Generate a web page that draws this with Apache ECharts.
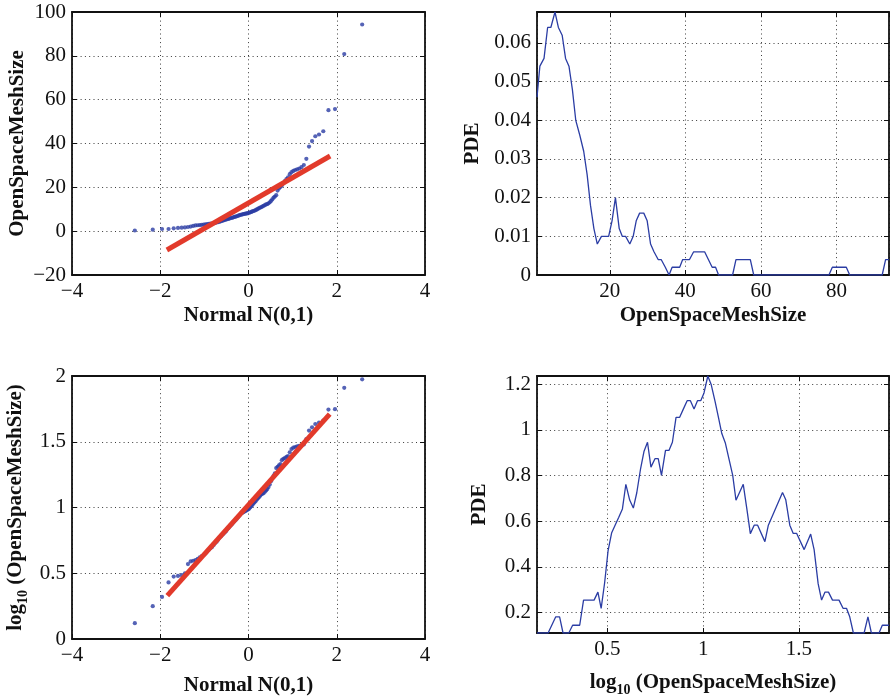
<!DOCTYPE html>
<html>
<head>
<meta charset="utf-8">
<script src="https://cdn.jsdelivr.net/npm/echarts@6/dist/echarts.min.js"></script>
<style>
  html, body { margin: 0; padding: 0; background: #ffffff; }
  #chart { width: 890px; height: 698px; }
</style>
</head>
<body>
<div id="chart"></div>
<script>
// Theoretical N(0,1) quantiles for a sample of 100 observations
const normalQuantiles = [
  -2.576, -2.170, -1.960, -1.812, -1.695, -1.598, -1.514, -1.440, -1.372, -1.311,
  -1.254, -1.200, -1.150, -1.103, -1.058, -1.015, -0.974, -0.935, -0.896, -0.860,
  -0.824, -0.789, -0.755, -0.722, -0.690, -0.659, -0.628, -0.598, -0.568, -0.539,
  -0.510, -0.482, -0.454, -0.426, -0.399, -0.372, -0.345, -0.319, -0.292, -0.266,
  -0.240, -0.215, -0.189, -0.164, -0.138, -0.113, -0.088, -0.063, -0.038, -0.013,
   0.013,  0.038,  0.063,  0.088,  0.113,  0.138,  0.164,  0.189,  0.215,  0.240,
   0.266,  0.292,  0.319,  0.345,  0.372,  0.399,  0.426,  0.454,  0.482,  0.510,
   0.539,  0.568,  0.598,  0.628,  0.659,  0.690,  0.722,  0.755,  0.789,  0.824,
   0.860,  0.896,  0.935,  0.974,  1.015,  1.058,  1.103,  1.150,  1.200,  1.254,
   1.311,  1.372,  1.440,  1.514,  1.598,  1.695,  1.812,  1.960,  2.170,  2.576
];

// Sorted OpenSpaceMeshSize sample
const meshSize = [
   0.3,  0.7,  1.0,  1.0,  1.3,  1.5,  1.6,  1.7,  1.9,  2.1,
   2.4,  2.6,  2.7,  2.8,  2.9,  3.0,  3.1,  3.2,  3.3,  3.4,
   3.5,  3.6,  3.8,  4.0,  4.1,  4.3,  4.5,  4.7,  4.9,  5.1,
   5.3,  5.5,  5.6,  5.8,  6.0,  6.1,  6.3,  6.5,  6.6,  6.8,
   7.0,  7.2,  7.4,  7.5,  7.7,  7.8,  7.9,  8.0,  8.1,  8.2,
   8.4,  8.6,  8.8,  9.0,  9.2,  9.4,  9.6,  9.9, 10.2, 10.5,
  10.8, 11.0, 11.3, 11.6, 11.9, 12.2, 12.4, 12.7, 13.2, 13.8,
  14.5, 15.3, 15.8, 16.4, 18.5, 19.5, 20.2, 20.8, 21.8, 22.8,
  23.8, 24.6, 26.0, 26.9, 27.5, 27.9, 28.2, 28.6, 29.2, 30.2,
  33.0, 38.6, 41.1, 43.3, 44.1, 45.6, 55.2, 55.7, 80.8, 94.3
];

// Sorted log10(OpenSpaceMeshSize) sample
const logMeshSize = [
  0.12,  0.25,  0.32,  0.43,  0.475, 0.48,  0.485, 0.50,  0.57,  0.59,
  0.595, 0.60,  0.61,  0.62,  0.63,  0.64,  0.65,  0.665, 0.68,  0.69,
  0.70,  0.715, 0.73,  0.74,  0.755, 0.77,  0.78,  0.79,  0.80,  0.81,
  0.82,  0.835, 0.845, 0.855, 0.865, 0.875, 0.885, 0.895, 0.905, 0.915,
  0.925, 0.935, 0.945, 0.955, 0.96,  0.965, 0.97,  0.975, 0.98,  0.985,
  0.99,  1.00,  1.01,  1.02,  1.03,  1.04,  1.05,  1.06,  1.07,  1.08,
  1.09,  1.10,  1.105, 1.11,  1.12,  1.13,  1.14,  1.155, 1.175, 1.20,
  1.22,  1.24,  1.26,  1.30,  1.31,  1.32,  1.33,  1.36,  1.37,  1.375,
  1.385, 1.39,  1.42,  1.445, 1.455, 1.46,  1.465, 1.468, 1.47,  1.48,
  1.52,  1.585, 1.61,  1.635, 1.645, 1.66,  1.745, 1.748, 1.91,  1.975
];

// Reference lines (end points) through the quartiles
const fitLinearX = [-1.85, 1.85];
const fitLinearY = [-8.6, 34.3];
const fitLogX = [-1.84, 1.84];
const fitLogY = [0.33, 1.71];

// Density estimate of OpenSpaceMeshSize (polyline vertices)
const pdeLinearX = [
   0.74,  1.5,  2.6,  3.55,  4.4,  5.5,  6.4,  7.4,  8.3,  9.2,
  10.1, 11.0, 12.1, 13.1, 14.0, 14.9, 15.8, 16.7, 17.8, 19.7,
  20.6, 21.5, 22.5, 23.3, 24.2, 25.3, 26.2, 27.0, 27.9, 29.0,
  29.9, 30.8, 31.7, 32.8, 33.6, 34.7, 35.7, 36.5, 38.5, 39.3,
  41.1, 42.2, 45.1, 46.1, 47.1, 48.0, 48.8, 52.5, 53.4, 57.2,
  58.1, 78.0, 78.9, 82.6, 83.5, 92.1, 93.0, 93.9
];
const pdeLinearY = [
  0.046, 0.054, 0.056, 0.064, 0.064, 0.068, 0.064, 0.062, 0.056, 0.054,
  0.048, 0.040, 0.036, 0.032, 0.026, 0.018, 0.012, 0.008, 0.010, 0.010,
  0.014, 0.020, 0.012, 0.010, 0.010, 0.008, 0.010, 0.014, 0.016, 0.016,
  0.014, 0.008, 0.006, 0.004, 0.004, 0.002, 0.000, 0.002, 0.002, 0.004,
  0.004, 0.006, 0.006, 0.004, 0.002, 0.002, 0.000, 0.000, 0.004, 0.004,
  0.000, 0.000, 0.002, 0.002, 0.000, 0.000, 0.004, 0.004
];

// Density estimate of log10(OpenSpaceMeshSize) (polyline vertices)
const pdeLogX = [
  0.132, 0.190, 0.230, 0.250, 0.268, 0.298, 0.318, 0.355, 0.375, 0.430,
  0.450, 0.467, 0.485, 0.503, 0.522, 0.541, 0.559, 0.578, 0.596, 0.616,
  0.635, 0.653, 0.673, 0.691, 0.709, 0.727, 0.748, 0.765, 0.782, 0.803,
  0.821, 0.839, 0.858, 0.877, 0.896, 0.916, 0.933, 0.952, 0.970, 0.987,
  1.004, 1.024, 1.041, 1.062, 1.080, 1.097, 1.115, 1.134, 1.154, 1.171,
  1.209, 1.227, 1.246, 1.266, 1.284, 1.322, 1.340, 1.414, 1.431, 1.452,
  1.470, 1.488, 1.527, 1.561, 1.579, 1.600, 1.618, 1.636, 1.654, 1.675,
  1.709, 1.730, 1.748, 1.765, 1.784, 1.840, 1.860, 1.878, 1.918, 1.935,
  1.970
];
const pdeLogY = [
  0.111, 0.111, 0.182, 0.182, 0.111, 0.111, 0.145, 0.145, 0.255, 0.255,
  0.290, 0.219, 0.330, 0.470, 0.550, 0.585, 0.618, 0.654, 0.762, 0.693,
  0.658, 0.725, 0.831, 0.907, 0.946, 0.837, 0.874, 0.874, 0.801, 0.910,
  0.910, 0.946, 1.055, 1.055, 1.091, 1.128, 1.128, 1.092, 1.128, 1.128,
  1.162, 1.236, 1.200, 1.124, 1.053, 0.984, 0.944, 0.874, 0.801, 0.692,
  0.762, 0.659, 0.546, 0.583, 0.583, 0.511, 0.583, 0.726, 0.694, 0.583,
  0.547, 0.547, 0.476, 0.544, 0.476, 0.327, 0.255, 0.290, 0.290, 0.255,
  0.255, 0.219, 0.219, 0.182, 0.111, 0.111, 0.182, 0.111, 0.111, 0.145,
  0.145
];

const zip = (xs, ys) => xs.map((x, i) => [x, ys[i]]);

const SERIF = '"Liberation Serif", "Times New Roman", Times, serif';
const INK = '#111111';
const DOT_BLUE = '#2a3ca4';
const LINE_BLUE = '#2b3da4';
const FIT_RED = '#e23a2b';

const tickFormatter = v => String(Number(v.toPrecision(6))).replace('-', '\u2212');

const nameStyle = {
  fontFamily: SERIF, fontWeight: 'bold', fontSize: 21, color: INK,
  rich: {
    m: { fontFamily: SERIF, fontWeight: 'bold', fontSize: 21, color: INK, lineHeight: 28, verticalAlign: 'middle' },
    s: { fontFamily: SERIF, fontWeight: 'bold', fontSize: 14, color: INK, lineHeight: 14, verticalAlign: 'bottom' }
  }
};

// Builds one axis of a boxed panel; "mirror" axes only carry the inward ticks
function axis(kind, gridIndex, cfg) {
  const mirror = !!cfg.mirror;
  const a = {
    type: 'value',
    gridIndex,
    position: cfg.position,
    min: cfg.min,
    max: cfg.max,
    scale: true,
    axisLine: { show: true, onZero: false, lineStyle: { color: INK, width: 1.8 } },
    axisTick: { show: true, inside: true, length: 5, lineStyle: { color: INK, width: 1 } },
    axisLabel: {
      show: !mirror,
      fontFamily: SERIF, fontSize: 21, color: INK,
      margin: cfg.labelMargin != null ? cfg.labelMargin : 6,
      formatter: tickFormatter,
      showMinLabel: cfg.showMin !== undefined ? cfg.showMin : true,
      showMaxLabel: cfg.showMax !== undefined ? cfg.showMax : true,
      hideOverlap: false
    },
    splitLine: {
      show: !mirror,
      lineStyle: { type: [1, 3.3], color: '#3a3a3a', width: 1 }
    }
  };
  if (cfg.interval != null) a.interval = cfg.interval;
  if (cfg.splitNumber != null) a.splitNumber = cfg.splitNumber;
  if (cfg.name && !mirror) {
    a.name = cfg.name;
    a.nameLocation = 'middle';
    a.nameGap = cfg.nameGap;
    a.nameTextStyle = nameStyle;
  }
  return a;
}

const panels = [
  { left: 72, top: 12, width: 353, height: 263 },
  { left: 537, top: 12, width: 352, height: 263 },
  { left: 72, top: 376, width: 353, height: 263 },
  { left: 537, top: 376, width: 352, height: 263 }
];

const xAxes = [];
const yAxes = [];

// Panel 0: normal probability plot, linear scale
const qqX = { min: -4, max: 4, interval: 2 };
xAxes.push(axis('x', 0, Object.assign({ position: 'bottom', name: 'Normal N(0,1)', nameGap: 30 }, qqX)));
yAxes.push(axis('y', 0, { position: 'left', min: -20, max: 100, interval: 20, name: 'OpenSpaceMeshSize', nameGap: 44 }));
// Panel 1: density, linear scale
xAxes.push(axis('x', 1, { position: 'bottom', min: 0.74, max: 93.9, splitNumber: 5, showMin: false, showMax: false, name: 'OpenSpaceMeshSize', nameGap: 30 }));
yAxes.push(axis('y', 1, { position: 'left', min: 0, max: 0.068, interval: 0.01, showMax: false, name: 'PDE', nameGap: 54 }));
// Panel 2: normal probability plot, log scale
xAxes.push(axis('x', 2, Object.assign({ position: 'bottom', name: 'Normal N(0,1)', nameGap: 36 }, qqX)));
yAxes.push(axis('y', 2, { position: 'left', min: 0, max: 2, interval: 0.5, name: '{m|log}{s|10}{m| (OpenSpaceMeshSize)}', nameGap: 42 }));
// Panel 3: density, log scale
xAxes.push(axis('x', 3, { position: 'bottom', min: 0.132, max: 1.97, splitNumber: 4, showMin: false, showMax: false, name: '{m|log}{s|10}{m| (OpenSpaceMeshSize)}', nameGap: 36 }));
yAxes.push(axis('y', 3, { position: 'left', min: 0.111, max: 1.236, splitNumber: 5, showMin: false, showMax: false, name: 'PDE', nameGap: 47 }));

// Mirrored top / right axes close each box and repeat the inward ticks
xAxes.push(axis('x', 0, Object.assign({ position: 'top', mirror: true }, qqX)));
yAxes.push(axis('y', 0, { position: 'right', mirror: true, min: -20, max: 100, interval: 20 }));
xAxes.push(axis('x', 1, { position: 'top', mirror: true, min: 0.74, max: 93.9, splitNumber: 5 }));
yAxes.push(axis('y', 1, { position: 'right', mirror: true, min: 0, max: 0.068, interval: 0.01 }));
xAxes.push(axis('x', 2, Object.assign({ position: 'top', mirror: true }, qqX)));
yAxes.push(axis('y', 2, { position: 'right', mirror: true, min: 0, max: 2, interval: 0.5 }));
xAxes.push(axis('x', 3, { position: 'top', mirror: true, min: 0.132, max: 1.97, splitNumber: 4 }));
yAxes.push(axis('y', 3, { position: 'right', mirror: true, min: 0.111, max: 1.236, splitNumber: 5 }));

const option = {
  animation: false,
  backgroundColor: '#ffffff',
  grid: panels.map(p => Object.assign({ containLabel: false }, p)),
  xAxis: xAxes,
  yAxis: yAxes,
  series: [
    {
      type: 'scatter', xAxisIndex: 0, yAxisIndex: 0,
      data: zip(normalQuantiles, meshSize),
      symbol: 'circle', symbolSize: 4.2,
      itemStyle: { color: DOT_BLUE }, z: 2
    },
    {
      type: 'line', xAxisIndex: 0, yAxisIndex: 0,
      data: zip(fitLinearX, fitLinearY),
      symbol: 'none', lineStyle: { color: FIT_RED, width: 5 }, z: 3
    },
    {
      type: 'line', xAxisIndex: 1, yAxisIndex: 1,
      data: zip(pdeLinearX, pdeLinearY),
      symbol: 'none', clip: true,
      lineStyle: { color: LINE_BLUE, width: 1.3 }
    },
    {
      type: 'scatter', xAxisIndex: 2, yAxisIndex: 2,
      data: zip(normalQuantiles, logMeshSize),
      symbol: 'circle', symbolSize: 4.2,
      itemStyle: { color: DOT_BLUE }, z: 2
    },
    {
      type: 'line', xAxisIndex: 2, yAxisIndex: 2,
      data: zip(fitLogX, fitLogY),
      symbol: 'none', lineStyle: { color: FIT_RED, width: 5 }, z: 3
    },
    {
      type: 'line', xAxisIndex: 3, yAxisIndex: 3,
      data: zip(pdeLogX, pdeLogY),
      symbol: 'none', clip: true,
      lineStyle: { color: LINE_BLUE, width: 1.3 }
    }
  ]
};

const chart = echarts.init(document.getElementById('chart'), null, { renderer: 'canvas' });
chart.setOption(option);
</script>
</body>
</html>
